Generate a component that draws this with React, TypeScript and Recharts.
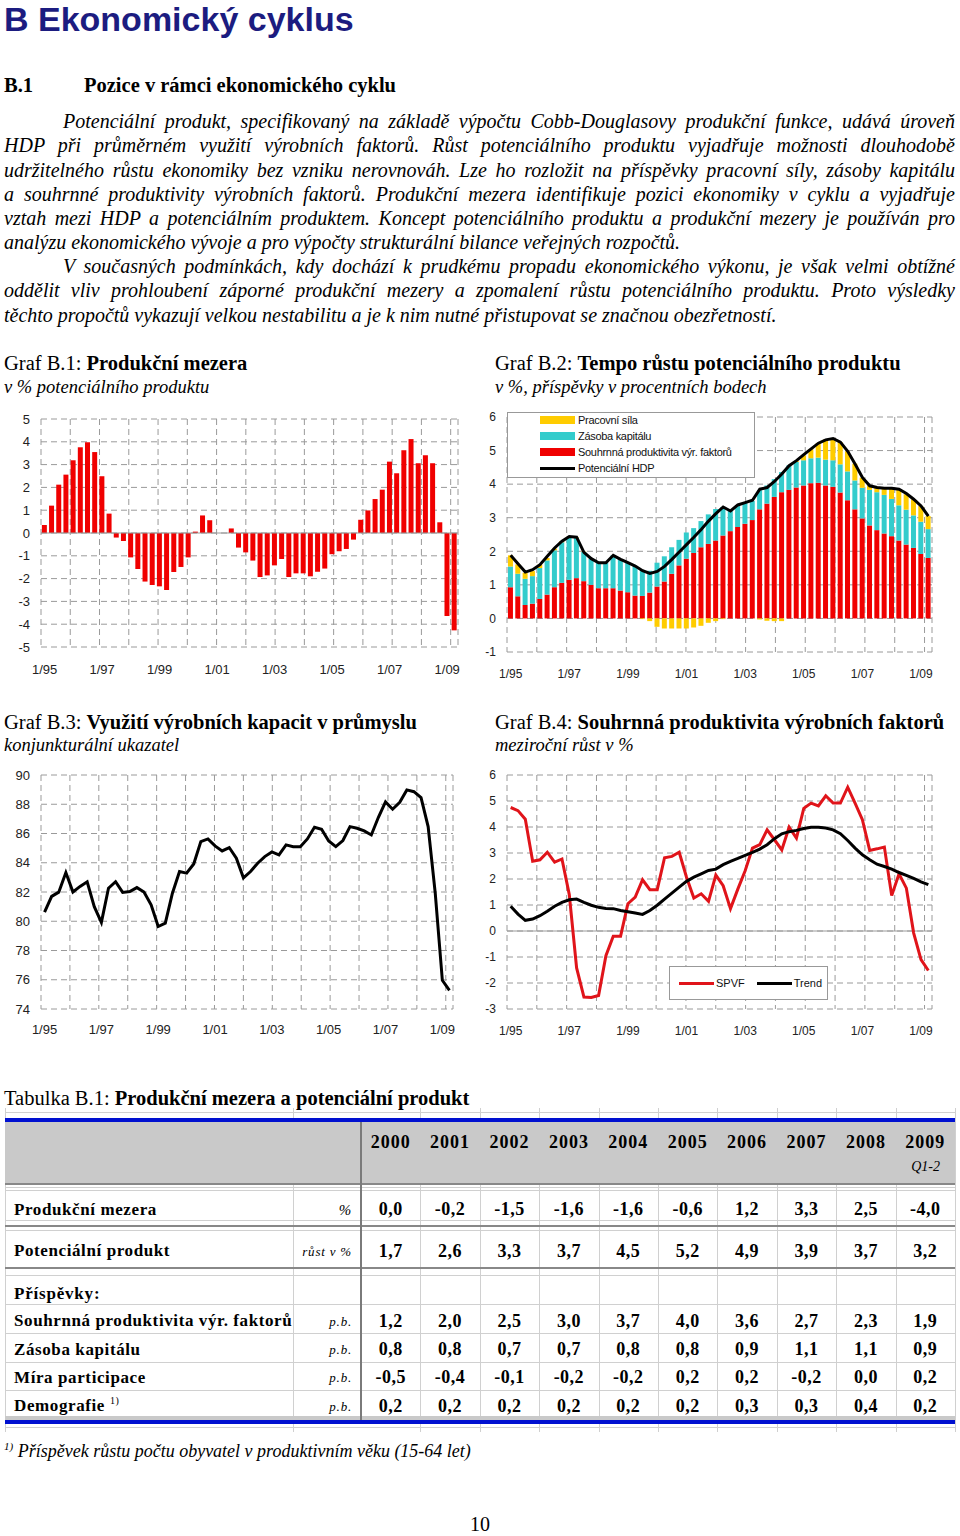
import React from 'react';
import {
  BarChart, Bar, ComposedChart, LineChart, Line, XAxis, YAxis,
  CartesianGrid, ReferenceLine, ReferenceArea, Legend,
} from 'recharts';

const SERIF = '"Liberation Serif", "Times New Roman", serif';
const SANS = '"Liberation Sans", Arial, sans-serif';

// quarters 1/95 .. 2/09
const quarters = [
  '1/95', '2/95', '3/95', '4/95', '1/96', '2/96', '3/96', '4/96',
  '1/97', '2/97', '3/97', '4/97', '1/98', '2/98', '3/98', '4/98',
  '1/99', '2/99', '3/99', '4/99', '1/00', '2/00', '3/00', '4/00',
  '1/01', '2/01', '3/01', '4/01', '1/02', '2/02', '3/02', '4/02',
  '1/03', '2/03', '3/03', '4/03', '1/04', '2/04', '3/04', '4/04',
  '1/05', '2/05', '3/05', '4/05', '1/06', '2/06', '3/06', '4/06',
  '1/07', '2/07', '3/07', '4/07', '1/08', '2/08', '3/08', '4/08',
  '1/09', '2/09',
];
const yearStarts = [4, 8, 12, 16, 20, 24, 28, 32, 36, 40, 44, 48, 52, 56];

// Graf B.1
const outputGap = [
  0.35, 1.2, 2.12, 2.56, 3.19, 3.76, 3.98, 3.55, 2.49, 0.85,
  -0.2, -0.35, -1.07, -1.58, -2.13, -2.28, -2.34, -2.5, -1.71, -1.49,
  -1.07, 0.06, 0.77, 0.56, 0, 0, 0.2, -0.64, -0.85, -1.21,
  -1.93, -1.86, -1.42, -1.14, -1.93, -1.77, -1.77, -1.9, -1.7, -1.56,
  -0.93, -0.8, -0.7, -0.29, 0.58, 0.99, 1.49, 1.9, 3.13, 2.62,
  3.63, 4.12, 3.06, 3.41, 3.06, 0.47, -3.64, -4.27,
];

// Graf B.2
const tfpContrib = [
  0.93, 0.66, 0.4, 0.44, 0.58, 0.71, 0.93, 1.06, 1.15, 1.2,
  1.11, 1.0, 0.9, 0.9, 0.9, 0.83, 0.78, 0.68, 0.67, 0.77,
  0.95, 1.1, 1.33, 1.58, 1.78, 1.95, 2.12, 2.22, 2.32, 2.47,
  2.6, 2.72, 2.82, 2.93, 3.25, 3.42, 3.62, 3.76, 3.83, 3.9,
  3.96, 4.03, 4.04, 3.96, 3.92, 3.75, 3.52, 3.25, 2.98, 2.77,
  2.63, 2.53, 2.45, 2.32, 2.2, 2.1, 1.92, 1.8,
];
const capitalContrib = [
  0.62, 0.67, 0.78, 0.82, 0.92, 1.02, 1.1, 1.21, 1.27, 1.2,
  0.87, 0.78, 0.77, 0.76, 0.98, 0.93, 0.88, 0.88, 0.77, 0.65,
  0.71, 0.75, 0.79, 0.76, 0.78, 0.74, 0.78, 0.88, 0.94, 0.85,
  0.62, 0.64, 0.62, 0.57, 0.57, 0.54, 0.53, 0.6, 0.73, 0.76,
  0.75, 0.74, 0.75, 0.77, 0.79, 0.84, 0.86, 0.86, 0.91, 1.06,
  1.13, 1.15, 1.11, 1.05, 1.04, 0.97, 0.96, 0.86,
];
const laborContrib = [
  0.33, 0.28, 0.18, 0.15, 0.1, 0.07, 0.05, 0.03, 0.02, 0.02,
  0.01, 0, 0, 0, 0, 0, 0, 0, -0.02, -0.08,
  -0.25, -0.3, -0.3, -0.3, -0.3, -0.27, -0.22, -0.13, -0.08, -0.02,
  0, 0, 0, 0, -0.03, -0.07, -0.08, -0.08, 0, 0.03,
  0.15, 0.27, 0.43, 0.6, 0.66, 0.66, 0.6, 0.5, 0.3, 0.13,
  0.14, 0.2, 0.32, 0.48, 0.46, 0.48, 0.47, 0.39,
];
const potentialGdp = [
  1.88, 1.63, 1.38, 1.45, 1.6, 1.85, 2.1, 2.3, 2.44, 2.42,
  1.97, 1.78, 1.66, 1.66, 1.88, 1.76, 1.66, 1.56, 1.42, 1.34,
  1.4, 1.55, 1.76, 1.98, 2.2, 2.42, 2.65, 2.9, 3.12, 3.32,
  3.2, 3.38, 3.45, 3.52, 3.85, 3.9, 4.08, 4.3, 4.55, 4.7,
  4.88, 5.05, 5.22, 5.32, 5.36, 5.25, 4.98, 4.6, 4.2, 3.95,
  3.9, 3.88, 3.88, 3.85, 3.72, 3.55, 3.35, 3.05,
];

// Graf B.3
const capacityUse = [
  80.62, 81.7, 81.99, 83.33, 82.0, 82.38, 82.7, 81.0, 79.92, 82.26,
  82.7, 81.97, 82.03, 82.3, 82.0, 81.12, 79.64, 79.87, 81.92, 83.4,
  83.29, 83.92, 85.45, 85.63, 85.15, 84.81, 85.04, 84.31, 82.97, 83.4,
  83.97, 84.42, 84.74, 84.54, 85.22, 85.1, 85.1, 85.63, 86.43, 86.29,
  85.49, 85.1, 85.52, 86.47, 86.36, 86.18, 85.9, 87.11, 88.16, 87.66,
  88.13, 88.98, 88.86, 88.45, 86.47, 81.92, 75.96, 75.28,
];

// Graf B.4
const spvf = [
  4.75, 4.63, 4.3, 2.68, 2.74, 3.03, 2.65, 2.77, 1.4, -1.42,
  -2.54, -2.56, -2.48, -0.95, -0.2, -0.2, 1.05, 1.3, 1.97, 1.59,
  1.59, 2.82, 2.87, 3.03, 2.07, 1.27, 1.43, 1.14, 2.15, 1.74,
  0.86, 1.61, 2.32, 3.19, 3.32, 3.89, 3.51, 3.12, 3.99, 3.57,
  4.72, 4.92, 4.81, 5.2, 4.92, 4.92, 5.53, 4.92, 4.28, 3.1,
  3.16, 3.23, 1.36, 2.2, 1.65, -0.08, -1.1, -1.52,
];
const spvfTrend = [
  0.95, 0.65, 0.41, 0.46, 0.59, 0.76, 0.95, 1.1, 1.2, 1.23,
  1.1, 0.99, 0.91, 0.87, 0.86, 0.79, 0.74, 0.69, 0.64, 0.79,
  0.99, 1.23, 1.46, 1.69, 1.91, 2.07, 2.2, 2.33, 2.38, 2.55,
  2.68, 2.79, 2.91, 3.02, 3.15, 3.32, 3.55, 3.74, 3.82, 3.87,
  3.94, 3.99, 3.99, 3.96, 3.89, 3.74, 3.48, 3.19, 2.93, 2.74,
  2.57, 2.48, 2.38, 2.25, 2.14, 2.02, 1.89, 1.78,
];

// Tabulka B.1
const tableYears = ['2000', '2001', '2002', '2003', '2004', '2005', '2006', '2007', '2008', '2009'];
const gapRow = ['0,0', '-0,2', '-1,5', '-1,6', '-1,6', '-0,6', '1,2', '3,3', '2,5', '-4,0'];
const potRow = ['1,7', '2,6', '3,3', '3,7', '4,5', '5,2', '4,9', '3,9', '3,7', '3,2'];
const tfpRow = ['1,2', '2,0', '2,5', '3,0', '3,7', '4,0', '3,6', '2,7', '2,3', '1,9'];
const capRow = ['0,8', '0,8', '0,7', '0,7', '0,8', '0,8', '0,9', '1,1', '1,1', '0,9'];
const partRow = ['-0,5', '-0,4', '-0,1', '-0,2', '-0,2', '0,2', '0,2', '-0,2', '0,0', '0,2'];
const demoRow = ['0,2', '0,2', '0,2', '0,2', '0,2', '0,2', '0,3', '0,3', '0,4', '0,2'];

const b1Data = quarters.map((q, i) => ({ q, gap: outputGap[i] }));
const b2Data = quarters.map((q, i) => ({
  q, tfp: tfpContrib[i], cap: capitalContrib[i], lab: laborContrib[i], hdp: potentialGdp[i],
}));
const b3Data = quarters.map((q, i) => ({ q, v: capacityUse[i] }));
const b4Data = quarters.map((q, i) => ({ q, spvf: spvf[i], trend: spvfTrend[i] }));

const GRID = '#9a9a9a';
const DASH = '6 4';
const tickBig = { fontSize: 13, fill: '#222', fontFamily: SANS };
const tickSmall = { fontSize: 12, fill: '#222', fontFamily: SANS };

const b2LegendOrder = ['Pracovní síla', 'Zásoba kapitálu', 'Souhrnná produktivita výr. faktorů', 'Potenciální HDP'];

const B2Legend = (props: any) => {
  const payload = props.payload || [];
  const items = b2LegendOrder.map((n) => payload.find((p: any) => p.value === n)).filter(Boolean);
  return (
    <div style={{
      width: 248, height: 66, background: '#fff', border: '1px solid #999', boxSizing: 'border-box',
      position: 'relative', fontFamily: SANS, fontSize: 11, letterSpacing: -0.3, color: '#111',
    }}>
      {items.map((p: any, i: number) => (
        <div key={p.value} style={{ position: 'absolute', left: 32, top: i * 16, height: 14, display: 'flex', alignItems: 'center', whiteSpace: 'nowrap' }}>
          <div style={{ width: 35, height: p.type === 'line' ? 3 : 8, background: p.color }} />
          <span style={{ marginLeft: 3 }}>{p.value}</span>
        </div>
      ))}
    </div>
  );
};

const B4Legend = (props: any) => {
  const payload = props.payload || [];
  return (
    <div style={{
      width: 159, height: 34, background: '#fff', border: '1px solid #999', boxSizing: 'border-box',
      display: 'flex', alignItems: 'center', fontFamily: SANS, fontSize: 11, color: '#111', paddingLeft: 9,
    }}>
      {payload.map((p: any) => (
        <div key={p.value} style={{ display: 'flex', alignItems: 'center', marginRight: 12 }}>
          <div style={{ width: 35, height: 3, background: p.color }} />
          <span style={{ marginLeft: 2 }}>{p.value}</span>
        </div>
      ))}
    </div>
  );
};

function GraphB1() {
  return (
    <BarChart width={470} height={290} data={b1Data} margin={{ top: 19, right: 12, left: 5, bottom: 13 }} barCategoryGap="12%">
      <XAxis dataKey="q" interval={7} tickLine={false} axisLine={false} tick={tickBig} tickMargin={12} height={30} />
      <XAxis xAxisId="g" type="number" domain={[0, 58]} ticks={yearStarts} interval={0} allowDataOverflow hide />
      <YAxis domain={[-5, 5]} ticks={[-5, -4, -3, -2, -1, 0, 1, 2, 3, 4, 5]} interval={0} width={36} tickLine={false} axisLine={false} tick={tickBig} tickMargin={5} />
      <CartesianGrid xAxisId="g" stroke={GRID} strokeDasharray={DASH} />
      <ReferenceLine y={0} stroke={GRID} />
      <Bar dataKey="gap" fill="#f00000" isAnimationActive={false} />
      <ReferenceArea xAxisId="g" x1={0} x2={58} y1={-5} y2={5} fill="none" stroke={GRID} />
    </BarChart>
  );
}

function GraphB2() {
  return (
    <ComposedChart width={470} height={290} data={b2Data} stackOffset="sign" margin={{ top: 17, right: 18, left: 5, bottom: 8 }} barCategoryGap="13%">
      <XAxis dataKey="q" interval={7} tickLine={false} axisLine={false} tick={tickSmall} tickMargin={11} height={30} />
      <XAxis xAxisId="g" type="number" domain={[0, 58]} ticks={yearStarts} interval={0} allowDataOverflow hide />
      <YAxis domain={[-1, 6]} ticks={[-1, 0, 1, 2, 3, 4, 5, 6]} interval={0} width={22} tickLine={false} axisLine={false} tick={tickSmall} tickMargin={5} />
      <CartesianGrid xAxisId="g" stroke={GRID} strokeDasharray={DASH} />
      <ReferenceArea xAxisId="g" x1={0} x2={58} y1={-1} y2={6} fill="none" stroke={GRID} />
      <Bar dataKey="tfp" stackId="s" name="Souhrnná produktivita výr. faktorů" fill="#f00000" isAnimationActive={false} />
      <Bar dataKey="cap" stackId="s" name="Zásoba kapitálu" fill="#33cccc" isAnimationActive={false} />
      <Bar dataKey="lab" stackId="s" name="Pracovní síla" fill="#ffcc00" isAnimationActive={false} />
      <Line dataKey="hdp" name="Potenciální HDP" stroke="#000" strokeWidth={3} dot={false} isAnimationActive={false} />
      <Legend layout="vertical" align="center" verticalAlign="middle" content={B2Legend} wrapperStyle={{ left: 27, top: 12, width: 248, height: 66 }} />
    </ComposedChart>
  );
}

function GraphB3() {
  return (
    <LineChart width={470} height={290} data={b3Data} margin={{ top: 15, right: 17, left: 5, bottom: 11 }}>
      <XAxis dataKey="q" scale="band" interval={7} tickLine={false} axisLine={false} tick={tickBig} tickMargin={10} height={30} />
      <XAxis xAxisId="g" type="number" domain={[0, 58]} ticks={yearStarts} interval={0} allowDataOverflow hide />
      <YAxis domain={[74, 90]} ticks={[74, 76, 78, 80, 82, 84, 86, 88, 90]} interval={0} width={36} tickLine={false} axisLine={false} tick={tickBig} tickMargin={5} />
      <CartesianGrid xAxisId="g" stroke={GRID} strokeDasharray={DASH} />
      <ReferenceArea xAxisId="g" x1={0} x2={58} y1={74} y2={90} fill="none" stroke={GRID} />
      <Line dataKey="v" stroke="#000" strokeWidth={3} dot={false} isAnimationActive={false} />
    </LineChart>
  );
}

function GraphB4() {
  return (
    <LineChart width={470} height={290} data={b4Data} margin={{ top: 15, right: 18, left: 5, bottom: 11 }}>
      <XAxis dataKey="q" scale="band" interval={7} tickLine={false} axisLine={false} tick={tickSmall} tickMargin={11} height={30} />
      <XAxis xAxisId="g" type="number" domain={[0, 58]} ticks={yearStarts} interval={0} allowDataOverflow hide />
      <YAxis domain={[-3, 6]} ticks={[-3, -2, -1, 0, 1, 2, 3, 4, 5, 6]} interval={0} width={22} tickLine={false} axisLine={false} tick={tickSmall} tickMargin={5} />
      <CartesianGrid xAxisId="g" stroke={GRID} strokeDasharray={DASH} />
      <ReferenceLine y={0} stroke={GRID} />
      <ReferenceArea xAxisId="g" x1={0} x2={58} y1={-3} y2={6} fill="none" stroke={GRID} />
      <Line dataKey="spvf" name="SPVF" stroke="#e0141a" strokeWidth={3} dot={false} isAnimationActive={false} />
      <Line dataKey="trend" name="Trend" stroke="#000" strokeWidth={3} dot={false} isAnimationActive={false} />
      <Legend layout="vertical" align="center" verticalAlign="middle" content={B4Legend} wrapperStyle={{ left: 189, top: 206, width: 159, height: 34 }} />
    </LineChart>
  );
}

function Txt({ x, y, size, lh, children, style }: any) {
  const lineH = lh || size * 1.2;
  return (
    <div style={{
      position: 'absolute', left: x, top: y - lineH / 2, fontSize: size, lineHeight: `${lineH}px`,
      whiteSpace: 'nowrap', fontFamily: SERIF, color: '#000', ...style,
    }}>{children}</div>
  );
}

function PLine({ x, y, last, children }: any) {
  return (
    <div style={{
      position: 'absolute', left: x, top: y - 12, width: 955 - x, fontSize: 20, lineHeight: '24px',
      fontStyle: 'italic', fontFamily: SERIF, whiteSpace: 'nowrap', textAlign: 'justify',
      textAlignLast: last ? 'left' : 'justify', color: '#000',
    }}>{children}</div>
  );
}

const paragraphLines = [
  { x: 63, y: 121, t: 'Potenciální produkt, specifikovaný na základě výpočtu Cobb-Douglasovy produkční funkce, udává úroveň' },
  { x: 4, y: 145, t: 'HDP při průměrném využití výrobních faktorů. Růst potenciálního produktu vyjadřuje možnosti dlouhodobě' },
  { x: 4, y: 170, t: 'udržitelného růstu ekonomiky bez vzniku nerovnováh. Lze ho rozložit na příspěvky pracovní síly, zásoby kapitálu' },
  { x: 4, y: 194, t: 'a souhrnné produktivity výrobních faktorů. Produkční mezera identifikuje pozici ekonomiky v cyklu a vyjadřuje' },
  { x: 4, y: 218, t: 'vztah mezi HDP a potenciálním produktem. Koncept potenciálního produktu a produkční mezery je používán pro' },
  { x: 4, y: 242, t: 'analýzu ekonomického vývoje a pro výpočty strukturální bilance veřejných rozpočtů.', last: true },
  { x: 63, y: 266, t: 'V současných podmínkách, kdy dochází k prudkému propadu ekonomického výkonu, je však velmi obtížné' },
  { x: 4, y: 290, t: 'oddělit vliv prohloubení záporné produkční mezery a zpomalení růstu potenciálního produktu. Proto výsledky' },
  { x: 4, y: 315, t: 'těchto propočtů vykazují velkou nestabilitu a je k nim nutné přistupovat se značnou obezřetností.', last: true },
];

function HLine({ y, h = 1, color = '#d0d0d0', x1 = 5, x2 = 955 }: any) {
  return <div style={{ position: 'absolute', left: x1, top: y, width: x2 - x1, height: h, background: color }} />;
}
function VLine({ x, y1, y2, w = 1, color = '#d0d0d0' }: any) {
  return <div style={{ position: 'absolute', left: x, top: y1, width: w, height: y2 - y1, background: color }} />;
}

const COL0 = 361;
const COLW = 59.4;

function Table() {
  const rows = [
    { label: 'Produkční mezera', unit: '%', vals: gapRow, y: 1210 },
    { label: 'Potenciální produkt', unit: 'růst v %', vals: potRow, y: 1251.5 },
    { label: 'Souhrnná produktivita výr. faktorů', unit: 'p.b.', vals: tfpRow, y: 1321.5 },
    { label: 'Zásoba kapitálu', unit: 'p.b.', vals: capRow, y: 1350 },
    { label: 'Míra participace', unit: 'p.b.', vals: partRow, y: 1378 },
    { label: 'Demografie', sup: '1)', unit: 'p.b.', vals: demoRow, y: 1406.5 },
  ];
  const faintH = [1112, 1187, 1190, 1220, 1230, 1275, 1304, 1333, 1362, 1390, 1427];
  const vCols = [5, 293, ...tableYears.map((_, i) => COL0 + COLW * (i + 1))];
  return (
    <>
      {vCols.map((x) => <VLine key={x} x={x} y1={1108} y2={1432} />)}
      {faintH.map((y) => <HLine key={y} y={y} />)}
      <div style={{ position: 'absolute', left: 5, top: 1122, width: 950, height: 62, background: '#c9c9c9' }} />
      <div style={{ position: 'absolute', left: 5, top: 1416, width: 950, height: 4, background: '#c9c9c9' }} />
      <HLine y={1118} h={4} color="#0010d0" />
      <HLine y={1420} h={4} color="#0010d0" />
      <HLine y={1183} h={2} color="#888" />
      <HLine y={1225} h={2} color="#888" />
      <HLine y={1267} h={2} color="#888" />
      <VLine x={360} y1={1122} y2={1420} w={2} color="#7a7a7a" />
      {tableYears.map((yr, i) => (
        <Txt key={yr} x={COL0 + COLW * i} y={1143} size={18} style={{ width: COLW, textAlign: 'center', fontWeight: 'bold', letterSpacing: 1 }}>{yr}</Txt>
      ))}
      <Txt x={895} y={1167} size={14} style={{ width: 45, textAlign: 'right', fontStyle: 'italic' }}>Q1-2</Txt>
      <Txt x={14} y={1294} size={17} style={{ fontWeight: 'bold', letterSpacing: 0.8 }}>Příspěvky:</Txt>
      {rows.map((r) => (
        <React.Fragment key={r.label}>
          <Txt x={14} y={r.y} size={17} style={{ fontWeight: 'bold', letterSpacing: 0.6 }}>
            {r.label}
            {r.sup ? <span style={{ fontSize: 10, fontWeight: 'normal', marginLeft: 5, position: 'relative', top: -7 }}>{r.sup}</span> : null}
          </Txt>
          <Txt x={240} y={r.y} size={r.unit === '%' ? 15 : 13} style={{ width: 112, textAlign: 'right', fontStyle: 'italic', letterSpacing: 0.8 }}>{r.unit}</Txt>
          {r.vals.map((v, i) => (
            <Txt key={i} x={COL0 + COLW * i} y={r.y} size={18} style={{ width: COLW, textAlign: 'center', fontWeight: 'bold', letterSpacing: 0.5 }}>{v}</Txt>
          ))}
        </React.Fragment>
      ))}
    </>
  );
}

export default function App() {
  return (
    <div style={{ position: 'absolute', left: 0, top: 0, width: 960, height: 1536, background: '#fff', overflow: 'hidden' }}>
      <Txt x={4} y={19} size={34} lh={36} style={{ fontFamily: SANS, fontWeight: 'bold', color: '#1c1c80' }}>B  Ekonomický cyklus</Txt>
      <Txt x={4} y={85} size={20.5} style={{ fontWeight: 'bold' }}>B.1</Txt>
      <Txt x={84} y={85} size={20.5} style={{ fontWeight: 'bold' }}>Pozice v rámci ekonomického cyklu</Txt>
      {paragraphLines.map((l) => <PLine key={l.y} x={l.x} y={l.y} last={l.last}>{l.t}</PLine>)}

      <Txt x={4} y={363} size={20.5}>Graf B.1: <b>Produkční mezera</b></Txt>
      <Txt x={4} y={387} size={18.5} style={{ fontStyle: 'italic' }}>v % potenciálního produktu</Txt>
      <Txt x={495} y={363} size={20.5}>Graf B.2: <b>Tempo růstu potenciálního produktu</b></Txt>
      <Txt x={495} y={387} size={18.5} style={{ fontStyle: 'italic' }}>v %, příspěvky v procentních bodech</Txt>

      <div style={{ position: 'absolute', left: 0, top: 400 }}><GraphB1 /></div>
      <div style={{ position: 'absolute', left: 480, top: 400 }}><GraphB2 /></div>

      <Txt x={4} y={722} size={20.5}>Graf B.3: <b>Využití výrobních kapacit v průmyslu</b></Txt>
      <Txt x={4} y={745} size={18.5} style={{ fontStyle: 'italic' }}>konjunkturální ukazatel</Txt>
      <Txt x={495} y={722} size={20.5}>Graf B.4: <b>Souhrnná produktivita výrobních faktorů</b></Txt>
      <Txt x={495} y={745} size={18.5} style={{ fontStyle: 'italic' }}>meziroční růst v %</Txt>

      <div style={{ position: 'absolute', left: 0, top: 760 }}><GraphB3 /></div>
      <div style={{ position: 'absolute', left: 480, top: 760 }}><GraphB4 /></div>

      <Txt x={4} y={1098} size={20.5}>Tabulka B.1: <b>Produkční mezera a potenciální produkt</b></Txt>
      <Table />

      <Txt x={4} y={1452} size={18} style={{ fontStyle: 'italic' }}>
        <span style={{ fontSize: 11, position: 'relative', top: -7 }}>1)</span> Příspěvek růstu počtu obyvatel v produktivním věku (15-64 let)
      </Txt>
      <Txt x={440} y={1524} size={20} lh={22} style={{ width: 80, textAlign: 'center' }}>10</Txt>
    </div>
  );
}
